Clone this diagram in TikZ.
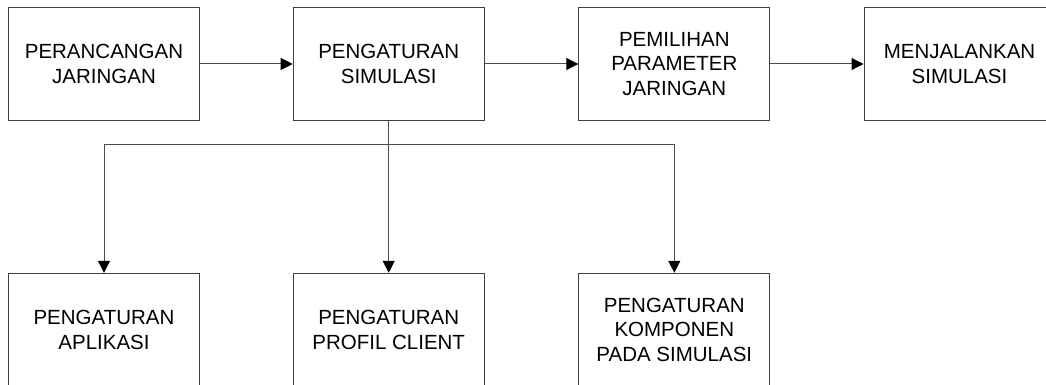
\documentclass[tikz,border=0pt]{standalone}
\usepackage{fontspec}
\setmainfont{Liberation Sans}
\usetikzlibrary{arrows.meta}
\begin{document}
\begin{tikzpicture}[x=1pt,y=-1pt,
  box/.style={draw=black!75, line width=1pt, minimum width=191pt, minimum height=113pt,
    inner sep=0pt, align=center, font=\fontsize{20.5}{24.5}\selectfont, text=black},
  conn/.style={draw=black!70, line width=1pt, -{Triangle[length=12pt,width=12pt,color=black]}}]
\useasboundingbox (0,0) rectangle (1046,385);
\clip (0,0) rectangle (1046,385);
\fill[white] (0,0) rectangle (1046,385);
\node[box] (b1) at (104,64) {PERANCANGAN\\JARINGAN};
\node[box] (b2) at (388.7,64) {PENGATURAN\\SIMULASI};
\node[box] (b3) at (674.3,64) {PEMILIHAN\\PARAMETER\\JARINGAN};
\node[box] (b4) at (959.5,64) {MENJALANKAN\\SIMULASI};
\node[box] (b5) at (104,329.8) {PENGATURAN\\APLIKASI};
\node[box] (b6) at (388.7,329.8) {PENGATURAN\\PROFIL CLIENT};
\node[box] (b7) at (674.3,329.8) {PENGATURAN\\KOMPONEN\\PADA SIMULASI};
\draw[conn] (b1) -- (b2);
\draw[conn] (b2) -- (b3);
\draw[conn] (b3) -- (b4);
\draw[conn] (b2.south) -- (b6.north);
\draw[conn] (b2.south) -- ++(0,23.5) -| (b5.north);
\draw[conn] (b2.south) -- ++(0,23.5) -| (b7.north);
\end{tikzpicture}
\end{document}
